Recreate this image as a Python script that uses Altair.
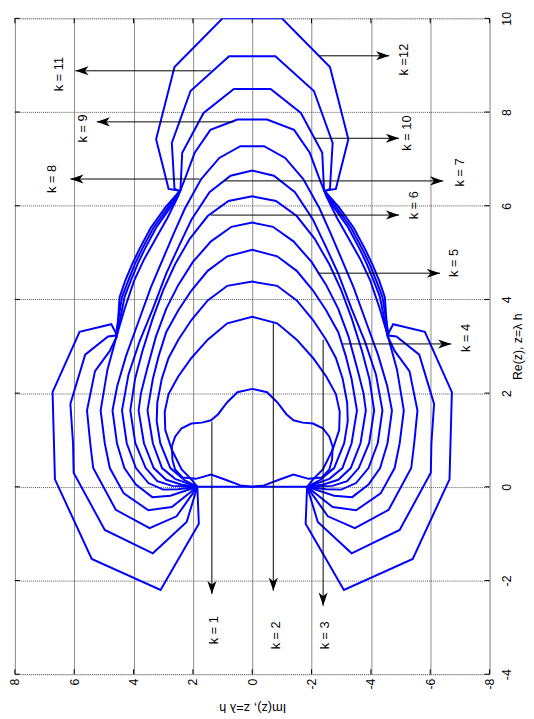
import altair as alt
import pandas as pd

# ---- contour curves: left half (Im >= 0), listed from apex down to the focal point ----
IM_K1 = [0, 0.5, 0.85, 1.15, 1.39, 1.7, 2.05, 2.38, 2.6, 2.71, 2.69, 2.6, 2.35, 1.9, 1.39, 0.9, 0.4, 0]
RE_K1 = [2.09, 2.02, 1.8, 1.55, 1.42, 1.37, 1.35, 1.25, 1.07, 0.86, 0.58, 0.37, 0.2, 0.17, 0.26, 0.15, 0.03, 0]

IM_K2 = [0, 0.84, 1.5, 2.05, 2.5, 2.82, 2.95, 2.93, 2.71, 2.38, 2.05, 1.85]
RE_K2 = [3.63, 3.49, 3.14, 2.75, 2.35, 1.98, 1.6, 1.21, 0.79, 0.37, 0.16, 0]

IM_K3 = [0, 0.84, 1.5, 2.05, 2.49, 2.82, 3.05, 3.2, 3.22, 3.1, 2.76, 2.3, 1.85]
RE_K3 = [4.38, 4.29, 3.98, 3.56, 3.14, 2.75, 2.3, 1.8, 1.4, 0.93, 0.4, 0.15, 0]

IM_K4 = [0, 0.84, 1.5, 2.05, 2.49, 2.9, 3.15, 3.35, 3.53, 3.35, 3.04, 2.6, 1.85]
RE_K4 = [5.06, 4.92, 4.61, 4.19, 3.77, 3.3, 2.8, 2.3, 1.63, 0.93, 0.4, 0.17, 0]

IM_K5 = [0, 0.7, 1.39, 2.0, 2.5, 2.9, 3.25, 3.55, 3.75, 3.83, 3.65, 3.32, 2.9, 2.4, 1.85]
RE_K5 = [5.64, 5.55, 5.24, 4.8, 4.3, 3.8, 3.2, 2.5, 2.0, 1.63, 0.93, 0.4, 0.15, 0.05, 0]

IM_K6 = [0, 0.8, 1.5, 2.1, 2.6, 3.0, 3.35, 3.7, 3.95, 4.11, 3.94, 3.59, 3.2, 2.7, 1.85]
RE_K6 = [6.2, 6.1, 5.78, 5.3, 4.75, 4.2, 3.6, 2.9, 2.3, 1.63, 0.93, 0.4, 0.12, 0.02, 0]

IM_K7 = [0, 0.73, 1.44, 2.05, 2.5, 2.9, 3.35, 3.8, 4.17, 4.39, 4.23, 3.92, 3.5, 3.0, 2.5, 1.85]
RE_K7 = [6.75, 6.64, 6.29, 5.7, 5.1, 4.55, 3.8, 3.1, 2.4, 1.63, 0.93, 0.4, 0.08, -0.06, -0.05, 0]

IM_K8 = [0, 0.4, 1.11, 1.72, 2.27, 2.65, 3.02, 3.42, 3.82, 4.25, 4.55, 4.71, 4.56, 4.31, 3.92, 3.37, 2.76, 1.85]
RE_K8 = [7.27, 7.27, 7.02, 6.57, 5.94, 5.4, 4.85, 4.25, 3.55, 2.8, 2.15, 1.63, 0.93, 0.4, 0.05, -0.22, -0.19, 0]

IM_K9 = [0, 0.5, 1.41, 1.94, 2.27, 2.5, 2.85, 3.25, 3.65, 3.98, 4.3, 4.58, 4.88, 5.11, 4.97, 4.8, 4.33, 3.5, 2.71, 1.85]
RE_K9 = [7.84, 7.84, 7.62, 7.13, 6.57, 6.2, 5.75, 5.3, 4.85, 4.4, 3.8, 3.2, 2.5, 1.63, 0.93, 0.4, -0.14, -0.5, -0.43, 0]

IM_K10 = [0, 0.62, 1.64, 2.36, 2.42, 2.92, 3.42, 3.8, 4.05, 4.28, 4.47, 4.56, 4.8, 5.3, 5.57, 5.46, 5.36, 4.6, 3.46, 2.55, 1.85]
RE_K10 = [8.49, 8.49, 7.98, 7.13, 6.33, 5.97, 5.53, 5.08, 4.75, 4.4, 4.05, 3.22, 2.9, 2.47, 1.63, 0.93, 0.4, -0.49, -0.88, -0.63, 0]

IM_K11 = [0, 0.78, 2.08, 2.71, 2.62, 2.45, 2.83, 3.33, 3.71, 3.96, 4.18, 4.39, 4.6, 4.86, 5.63, 6.13, 6.04, 6.02, 4.97, 3.35, 2.21, 1.85]
RE_K11 = [9.19, 9.19, 8.45, 7.34, 6.36, 6.31, 5.97, 5.53, 5.08, 4.75, 4.4, 4.05, 3.23, 3.21, 2.82, 1.77, 0.93, 0.3, -0.92, -1.42, -0.75, 0]

IM_K12 = [0, 1.0, 2.62, 3.24, 2.82, 2.43, 2.74, 3.24, 3.62, 3.86, 4.08, 4.3, 4.56, 4.75, 5.82, 6.73, 6.65, 5.41, 3.09, 1.8, 1.85]
RE_K12 = [10.0, 10.0, 8.96, 7.42, 6.36, 6.32, 5.98, 5.53, 5.08, 4.76, 4.42, 4.06, 3.24, 3.47, 3.31, 2.02, 0.16, -1.54, -2.2, -0.79, 0]

# segment along Re(z) = 0 joining the two focal points
SEG_IM = [1.85, -1.85]
SEG_RE = [0.0, 0.0]

# ---- annotation arrows ----
ARROW_K = [1, 2, 3, 4, 5, 6, 7, 8, 9, 10, 11, 12]
ARROW_IM1 = [1.36, -0.71, -2.39, -3.06, -2.2, 1.39, 0.95, 1.77, 0.62, -2.08, 1.39, -2.25]
ARROW_RE1 = [1.39, 3.49, 3.14, 3.05, 4.56, 5.80, 6.53, 6.57, 7.79, 7.44, 8.88, 9.2]
ARROW_IM2 = [1.36, -0.71, -2.39, -6.71, -6.33, -4.95, -6.44, 6.13, 5.24, -4.95, 5.96, -4.62]
ARROW_RE2 = [-2.29, -2.22, -2.54, 3.05, 4.56, 5.80, 6.53, 6.57, 7.79, 7.44, 8.88, 9.2]
LABEL_TEXT = ["k = 1", "k = 2", "k = 3", "k = 4", "k = 5", "k = 6", "k = 7",
              "k = 8", "k = 9", "k = 10", "k = 11", "k =12"]
LABEL_IM = [1.28, -0.82, -2.47, -7.21, -6.82, -5.44, -6.99, 6.76, 5.69, -5.23, 6.51, -5.11]
LABEL_RE = [-3.06, -3.17, -3.17, 3.18, 4.78, 6.01, 6.71, 6.57, 7.65, 7.55, 8.81, 9.12]

IM_TICKS = [-8, -6, -4, -2, 0, 2, 4, 6, 8]
RE_TICKS = [-4, -2, 0, 2, 4, 6, 8, 10]

W, H = 482, 666

curves = {
    1: (IM_K1, RE_K1), 2: (IM_K2, RE_K2), 3: (IM_K3, RE_K3), 4: (IM_K4, RE_K4),
    5: (IM_K5, RE_K5), 6: (IM_K6, RE_K6), 7: (IM_K7, RE_K7), 8: (IM_K8, RE_K8),
    9: (IM_K9, RE_K9), 10: (IM_K10, RE_K10), 11: (IM_K11, RE_K11), 12: (IM_K12, RE_K12),
}

rows = []
for k, (ims, res) in curves.items():
    left = list(zip(ims, res))
    right = [(-a, b) for a, b in reversed(left)]
    path = right + left[1:]
    for i, (a, b) in enumerate(path):
        rows.append({"k": k, "i": i, "im": a, "re": b})
curve_df = pd.DataFrame(rows)

seg_df = pd.DataFrame({"k": [0, 0], "i": [0, 1], "im": SEG_IM, "re": SEG_RE})

arrow_df = pd.DataFrame({"k": ARROW_K, "im": ARROW_IM1, "re": ARROW_RE1,
                         "im2": ARROW_IM2, "re2": ARROW_RE2})


def head_angle(a1, r1, a2, r2):
    if abs(r2 - r1) > abs(a2 - a1):
        return 180 if r2 < r1 else 0
    return 90 if a2 < a1 else 270


arrow_df["ang"] = [head_angle(a, b, c, d) for a, b, c, d in
                   zip(ARROW_IM1, ARROW_RE1, ARROW_IM2, ARROW_RE2)]
label_df = pd.DataFrame({"t": LABEL_TEXT, "im": LABEL_IM, "re": LABEL_RE})
im_tick_df = pd.DataFrame({"im": IM_TICKS})
re_tick_df = pd.DataFrame({"re": RE_TICKS})

xscale = alt.Scale(domain=[-8, 8], reverse=True, nice=False, zero=False)
yscale = alt.Scale(domain=[-4, 10], nice=False, zero=False)

xaxis = alt.Axis(values=IM_TICKS, orient="bottom", labelAngle=270, ticks=False,
                 labelExpr="toString(datum.value)",
                 labelPadding=4, title="Im(z), z=λ h", titleAngle=180, titlePadding=25,
                 grid=True, gridColor="#8a8a8a", gridWidth=1, domain=False,
                 labelFont="Liberation Sans", labelFontSize=12.5, labelColor="black",
                 titleFont="Liberation Sans", titleFontSize=13, titleFontWeight="normal",
                 titleColor="black")
yaxis = alt.Axis(values=RE_TICKS, orient="right", labelAngle=270, ticks=False,
                 labelExpr="toString(datum.value)",
                 labelPadding=11, title="Re(z), z=λ h", titleAngle=270, titlePadding=12,
                 grid=True, gridColor="#555555", gridDash=[1, 1], gridWidth=1, domain=False,
                 labelFont="Liberation Sans", labelFontSize=12.5, labelColor="black",
                 titleFont="Liberation Sans", titleFontSize=12.5, titleFontWeight="normal",
                 titleColor="black")

base_x = alt.X("im:Q", scale=xscale, axis=xaxis)
base_y = alt.Y("re:Q", scale=yscale, axis=yaxis)

curve_layer = alt.Chart(curve_df).mark_line(color="#0000ff", strokeWidth=2, clip=True).encode(
    x=base_x, y=base_y, detail="k:N", order="i:Q")

seg_layer = alt.Chart(seg_df).mark_line(color="#0000ff", strokeWidth=2).encode(
    x="im:Q", y="re:Q", order="i:Q")

arrow_layer = alt.Chart(arrow_df).mark_rule(color="black", strokeWidth=1).encode(
    x="im:Q", y="re:Q", x2="im2:Q", y2="re2:Q")

head_layer = alt.Chart(arrow_df).mark_point(
    shape="M0,0L0.55,1.6L0,1.15L-0.55,1.6Z", filled=True, color="black",
    opacity=1, size=280, strokeWidth=0).encode(
    x=alt.X("im2:Q"), y=alt.Y("re2:Q"), angle=alt.Angle("ang:Q", scale=None))

label_layer = alt.Chart(label_df).mark_text(
    angle=270, font="Liberation Sans", fontSize=13, color="black",
    align="center", baseline="middle").encode(x="im:Q", y="re:Q", text="t:N")

# small inward ticks on all four sides of the box (MATLAB style)
tick_bottom = alt.Chart(im_tick_df).mark_rule(color="black", strokeWidth=1).encode(
    x="im:Q", y=alt.value(H), y2=alt.value(H - 5))
tick_top = alt.Chart(im_tick_df).mark_rule(color="black", strokeWidth=1).encode(
    x="im:Q", y=alt.value(0), y2=alt.value(5))
tick_left = alt.Chart(re_tick_df).mark_rule(color="black", strokeWidth=1).encode(
    y="re:Q", x=alt.value(0), x2=alt.value(5))
tick_right = alt.Chart(re_tick_df).mark_rule(color="black", strokeWidth=1).encode(
    y="re:Q", x=alt.value(W), x2=alt.value(W - 5))

chart = alt.layer(curve_layer, seg_layer, arrow_layer, head_layer, label_layer,
                  tick_bottom, tick_top, tick_left, tick_right).properties(
    width=W, height=H,
    autosize=alt.AutoSizeParams(type="none"),
    padding={"left": 7, "top": 5, "right": 37, "bottom": 40},
).configure_view(stroke="black", strokeWidth=1.5).configure(background="white")

chart.save("out.html", embed_options={"renderer": "svg", "actions": False})
